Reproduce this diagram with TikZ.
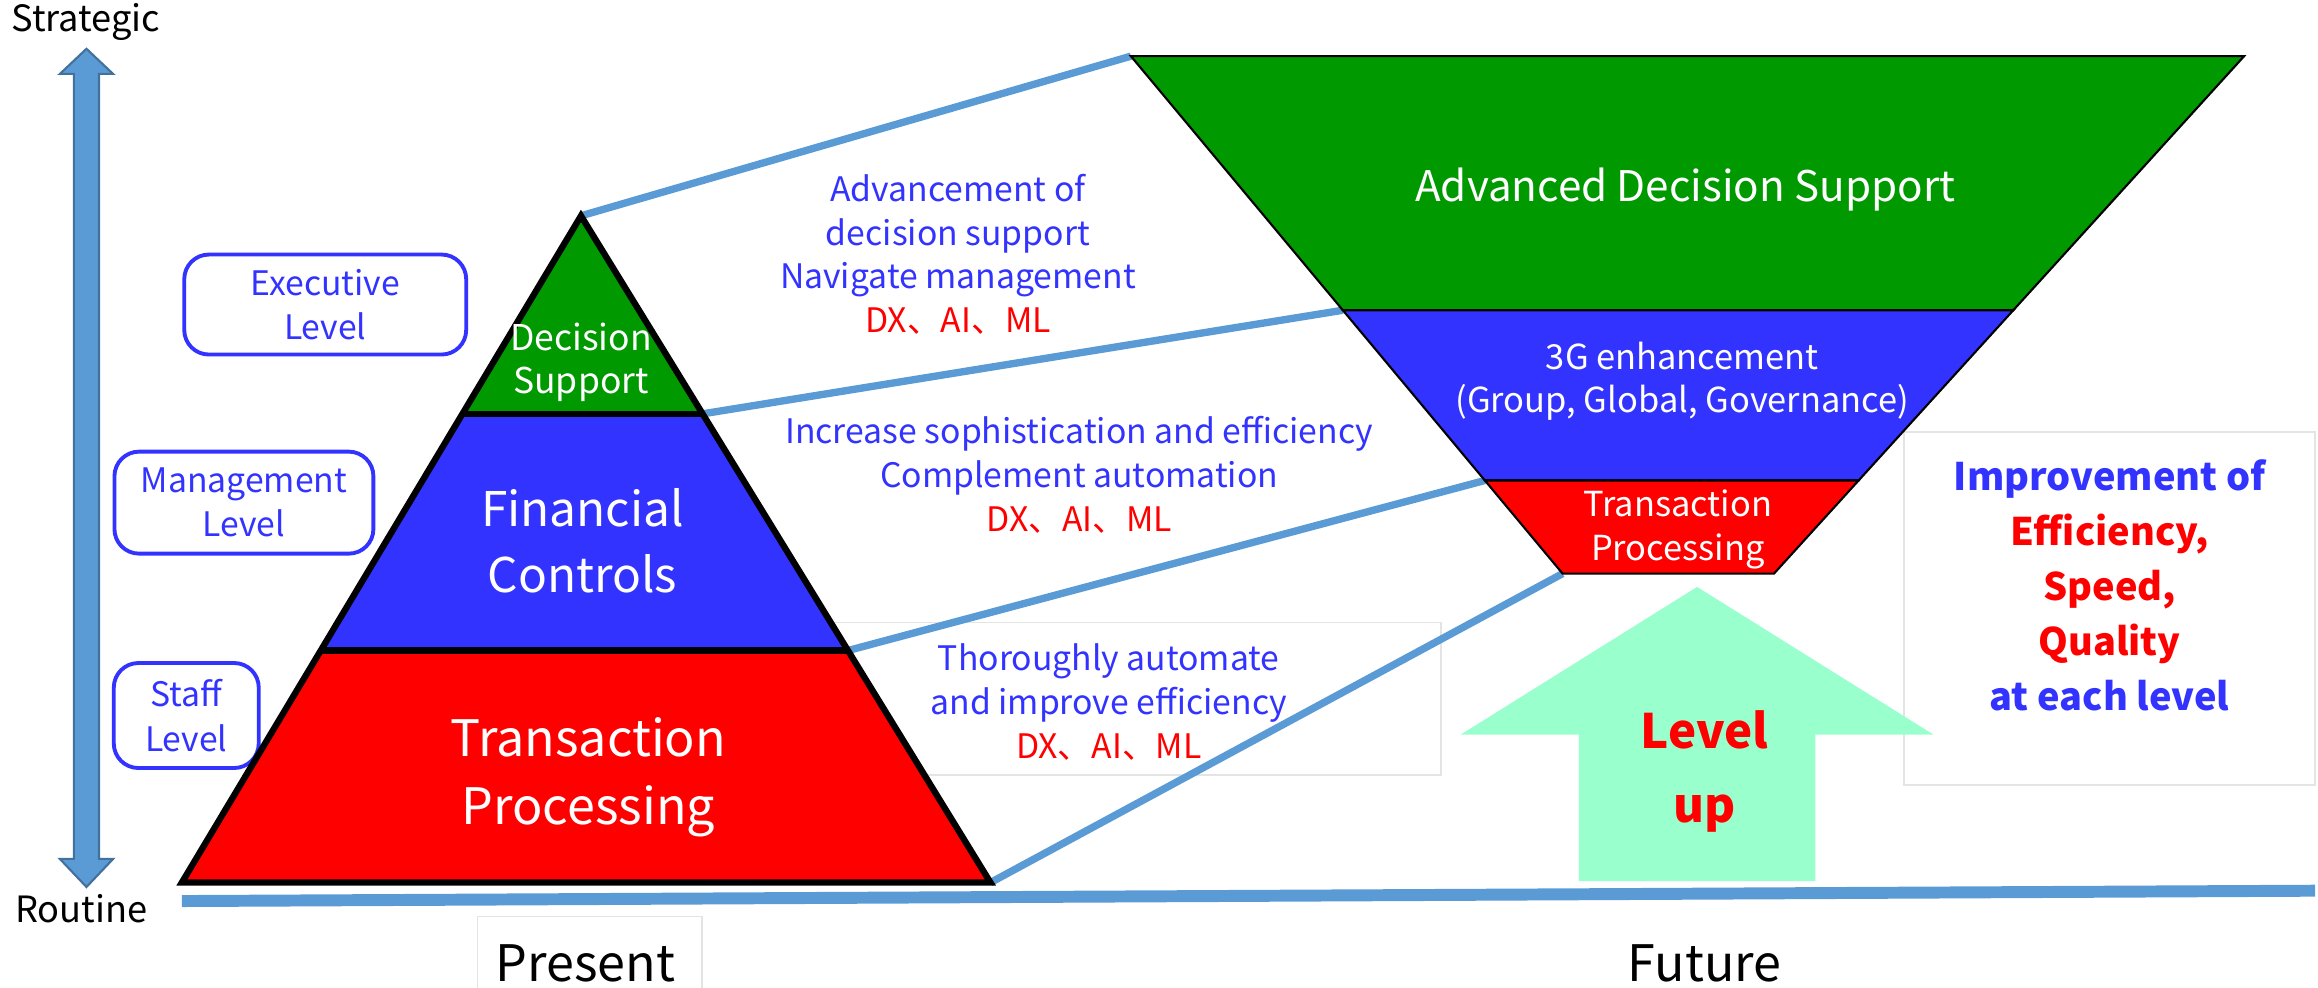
\documentclass[tikz,border=0pt]{standalone}
\usepackage{fontspec}
\setmainfont{Noto Sans CJK JP}
\usetikzlibrary{calc}
\definecolor{linkblue}{RGB}{91,155,213}
\definecolor{axisedge}{RGB}{65,113,156}
\definecolor{txtblue}{RGB}{51,51,255}
\definecolor{bandgreen}{RGB}{0,153,0}
\definecolor{bandblue}{RGB}{51,51,255}
\definecolor{bandred}{RGB}{255,0,0}
\definecolor{mint}{RGB}{153,255,204}
\definecolor{faint}{RGB}{228,228,228}
\tikzstyle{link}=[draw=linkblue,line width=2.1pt]
\tikzstyle{faintbox}=[draw=faint,line width=0.5pt]
\tikzstyle{levelbox}=[draw=txtblue,line width=1.1pt,rounded corners=7pt,text=txtblue,align=center,inner sep=0pt,font=\fontsize{9.6}{12.6}\selectfont]
\tikzstyle{midtext}=[align=center,text=txtblue,font=\fontsize{9.6}{12.5}\selectfont]
\tikzstyle{axistext}=[black,font=\fontsize{10.3}{13}\selectfont]
\tikzstyle{timetext}=[black,font=\fontsize{14.3}{18}\selectfont]

\begin{document}
\begin{tikzpicture}[x=0.014783cm,y=-0.014783cm]
    \useasboundingbox (0,0) rectangle (1568,668);

    \filldraw[fill=linkblue,draw=axisedge,line width=0.6pt] (58.5,33) -- (76.5,50) -- (67,50) -- (67,581) -- (76.5,581) -- (58.5,600) -- (40.5,581) -- (50,581) -- (50,50) -- (40.5,50) -- cycle;
    \node[axistext] (strat) at (58,15) {Strategic};
    \node[axistext] (rout) at (55,615) {Routine};

    \node[levelbox,minimum width=2.82cm,minimum height=1.0cm] (exec) at (220,206) {Executive\\Level};
    \node[levelbox,minimum width=2.59cm,minimum height=1.02cm] (mgmt) at (165,340) {Management\\Level};
    \node[levelbox,minimum width=1.45cm,minimum height=1.05cm] (staff) at (126,484) {Staff\\Level};

    \draw[faintbox] (323,620) rectangle (475,672);
    \draw[faintbox] (555,421) rectangle (975,524);
    \draw[faintbox] (1288,292) rectangle (1566,531);

    \coordinate (apex) at (393,146);
    \coordinate (base-l) at (123,597);
    \coordinate (base-r) at (670,597);
    \coordinate (ds-l) at ($(apex)!0.297!(base-l)$);
    \coordinate (ds-r) at ($(apex)!0.297!(base-r)$);
    \coordinate (fc-l) at ($(apex)!0.652!(base-l)$);
    \coordinate (fc-r) at ($(apex)!0.652!(base-r)$);

    \coordinate (top-l) at (765,38);
    \coordinate (top-r) at (1518,38);
    \coordinate (tip-l) at (1057,388);
    \coordinate (tip-r) at (1200,388);
    \coordinate (gb-l) at ($(top-l)!0.491!(tip-l)$);
    \coordinate (gb-r) at ($(top-r)!0.491!(tip-r)$);
    \coordinate (br-l) at ($(top-l)!0.82!(tip-l)$);
    \coordinate (br-r) at ($(top-r)!0.82!(tip-r)$);

    \coordinate (floor-l) at (123,609.5);
    \coordinate (floor-r) at (1566,602.5);

    \foreach \from/\to in {apex/top-l,ds-r/gb-l,fc-r/br-l,base-r/tip-l}
    \draw[link] (\from) -- (\to);
    \draw[link,line width=3.4pt] (floor-l) -- (floor-r);

    \fill[bandgreen] (apex) -- (ds-r) -- (ds-l) -- cycle;
    \fill[bandblue] (ds-l) -- (ds-r) -- (fc-r) -- (fc-l) -- cycle;
    \fill[bandred] (fc-l) -- (fc-r) -- (base-r) -- (base-l) -- cycle;
    \draw[line width=1.8pt] (apex) -- (base-r) -- (base-l) -- cycle;
    \draw[line width=1.8pt] (ds-l) -- (ds-r) (fc-l) -- (fc-r);

    \filldraw[fill=bandgreen,line width=0.6pt] (top-l) -- (top-r) -- (gb-r) -- (gb-l) -- cycle;
    \filldraw[fill=bandblue,line width=0.6pt] (gb-l) -- (gb-r) -- (br-r) -- (br-l) -- cycle;
    \filldraw[fill=bandred,line width=0.6pt] (br-l) -- (br-r) -- (tip-r) -- (tip-l) -- cycle;

    \node[white,align=center,font=\fontsize{10.1}{12.2}\selectfont] (ds) at (393,245) {Decision\\Support};
    \node[white,align=center,font=\fontsize{13.6}{18.9}\selectfont] (fc) at (394,366) {Financial\\Controls};
    \node[white,align=center,font=\fontsize{14.3}{19.3}\selectfont] (tp) at (398,526) {Transaction\\Processing};

    \node[white,font=\fontsize{12}{16}\selectfont] (ads) at (1140,128) {Advanced Decision Support};
    \node[white,align=center,font=\fontsize{9.8}{12.4}\selectfont] (tg) at (1138,258) {3G enhancement\\(Group, Global, Governance)};
    \node[white,align=center,font=\fontsize{9.8}{12.6}\selectfont] (ftp) at (1135,358) {Transaction\\Processing};

    \node[midtext] (adv) at (648,172) {Advancement of\\decision support\\Navigate management\\\textcolor{red}{DX、AI、ML}};
    \node[midtext] (inc) at (730,321) {Increase sophistication and efficiency\\Complement automation\\\textcolor{red}{DX、AI、ML}};
    \node[midtext] (tho) at (750,475) {Thoroughly automate\\and improve efficiency\\\textcolor{red}{DX、AI、ML}};

    \fill[mint] (1148,397) -- (1308,497) -- (1228,497) -- (1228,596) -- (1068,596) -- (1068,497) -- (988,497) -- cycle;
    \node[red,align=center,font=\bfseries\fontsize{13.5}{21}\selectfont] (lvl) at (1153,522) {Level\\up};

    \node[align=center,text=txtblue,font=\bfseries\fontsize{10.8}{15.7}\selectfont] (imp) at (1427,396) {Improvement of\\\textcolor{red}{Efficiency,}\\\textcolor{red}{Speed,}\\\textcolor{red}{Quality}\\at each level};

    \node[timetext] (pres) at (396,652) {Present};
    \node[timetext] (fut) at (1153,652) {Future};
\end{tikzpicture}
\end{document}
